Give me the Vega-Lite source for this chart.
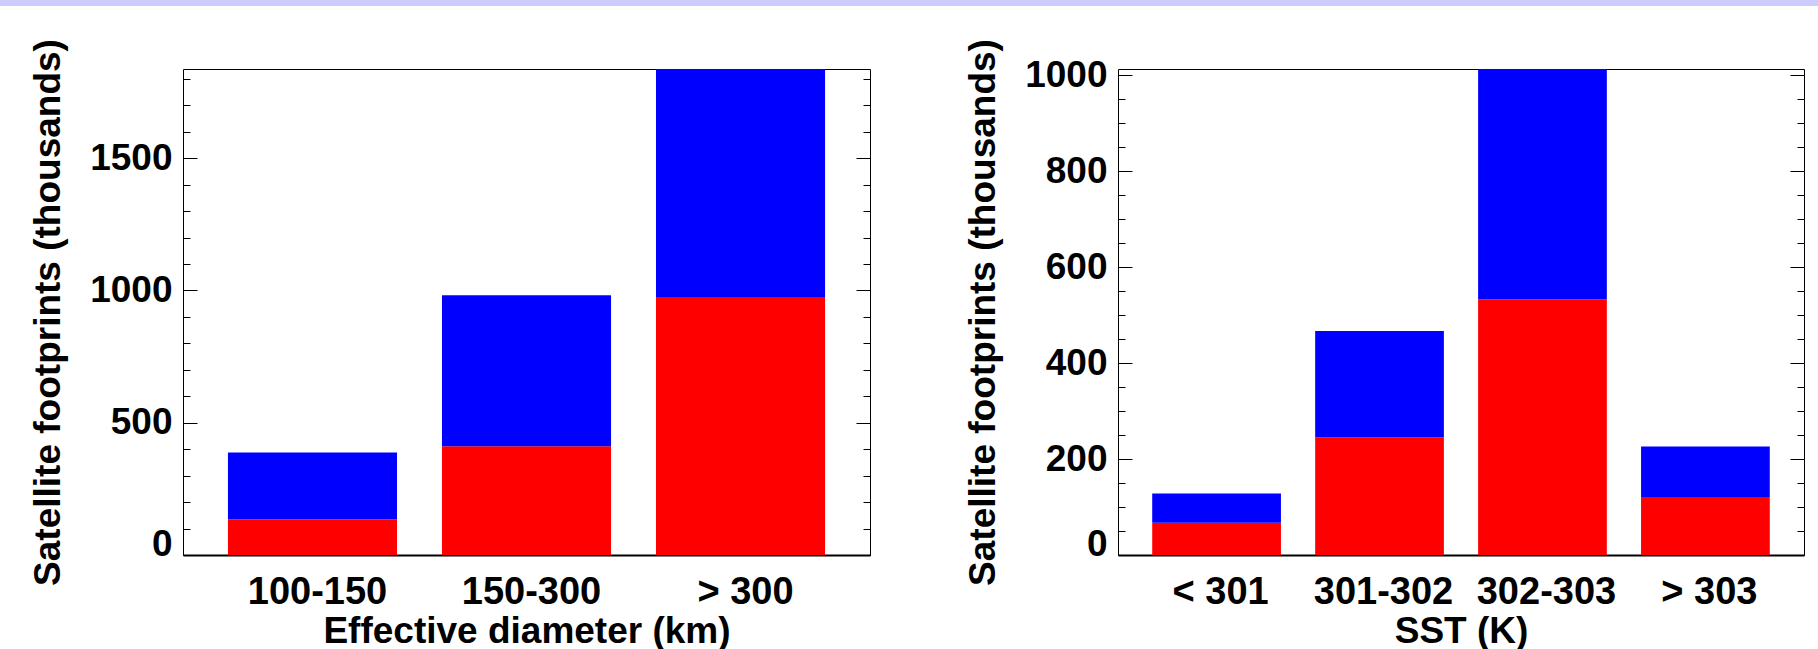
{
  "$schema": "https://vega.github.io/schema/vega-lite/v6.json",
  "padding": 0,
  "background": "white",
  "config": {
    "font": "Liberation Sans",
    "view": {"stroke": "#000000", "strokeWidth": 1},
    "axis": {
      "grid": false,
      "labelFont": "Liberation Sans",
      "titleFont": "Liberation Sans",
      "labelFontSize": 37,
      "titleFontSize": 37,
      "labelFontWeight": "bold",
      "titleFontWeight": "bold",
      "labelColor": "#000000",
      "titleColor": "#000000",
      "tickColor": "#000000",
      "domainColor": "#000000",
      "labelOverlap": false,
      "tickWidth": 1
    }
  },
  "datasets": {
    "diam": [
      {"bin": "100-150", "part": "lower", "count": 135},
      {"bin": "100-150", "part": "upper", "count": 252},
      {"bin": "150-300", "part": "lower", "count": 411},
      {"bin": "150-300", "part": "upper", "count": 571},
      {"bin": "> 300", "part": "lower", "count": 975},
      {"bin": "> 300", "part": "upper", "count": 862}
    ],
    "sst": [
      {"bin": "< 301", "part": "lower", "count": 67},
      {"bin": "< 301", "part": "upper", "count": 61},
      {"bin": "301-302", "part": "lower", "count": 245},
      {"bin": "301-302", "part": "upper", "count": 222},
      {"bin": "302-303", "part": "lower", "count": 533},
      {"bin": "302-303", "part": "upper", "count": 480},
      {"bin": "> 303", "part": "lower", "count": 121},
      {"bin": "> 303", "part": "upper", "count": 105}
    ]
  },
  "spacing": 32,
  "vconcat": [
    {
      "width": 1818,
      "height": 6,
      "view": {"fill": "#ccccff", "stroke": null},
      "data": {"values": []},
      "mark": "rect",
      "encoding": {}
    },
    {
      "spacing": 0,
      "hconcat": [
        {
          "width": 29,
          "height": 10,
          "view": {"stroke": null},
          "data": {"values": []},
          "mark": "rect",
          "encoding": {}
        },
        {
          "spacing": 93,
          "hconcat": [
            {
              "width": 687,
              "height": 486,
              "data": {"name": "diam"},
              "resolve": {"axis": {"x": "independent", "y": "independent"}},
              "layer": [
                {
                  "mark": {"type": "bar"},
                  "encoding": {
                    "x": {"field": "bin", "type": "nominal", "sort": ["100-150", "150-300", "> 300"], "scale": {"paddingInner": 0.21, "paddingOuter": 0.21},
                      "axis": {"orient": "bottom", "ticks": false, "domain": true, "domainWidth": 2, "labelAngle": 0, "labelFontSize": 38, "labelPadding": 18, "labelOffset": 5, "title": "Effective diameter (km)", "titlePadding": 2}},
                    "y": {"field": "count", "type": "quantitative", "stack": "zero", "scale": {"domain": [0, 1837], "nice": false},
                      "axis": {"orient": "left", "values": [0, 500, 1000, 1500], "format": "d", "ticks": false, "domain": false, "labelBaseline": {"condition": {"test": "datum.value === 0", "value": "alphabetic"}, "value": "middle"}, "labelPadding": 11, "title": "Satellite footprints (thousands)", "titlePadding": 22}},
                    "color": {"field": "part", "type": "nominal", "scale": {"domain": ["lower", "upper"], "range": ["#ff0000", "#0000ff"]}, "legend": null},
                    "order": {"field": "part", "sort": "ascending"}
                  }
                },
                {
                  "mark": {"type": "bar", "opacity": 0},
                  "encoding": {
                    "x": {"field": "bin", "type": "nominal", "sort": ["100-150", "150-300", "> 300"], "scale": {"paddingInner": 0.21, "paddingOuter": 0.21},
                      "axis": {"orient": "bottom", "labels": false, "title": null, "domain": false, "ticks": true, "tickSize": -13}},
                    "y": {"field": "count", "type": "quantitative", "stack": "zero", "scale": {"domain": [0, 1837], "nice": false},
                      "axis": {"orient": "left", "values": [0, 500, 1000, 1500], "labels": false, "title": null, "domain": false, "ticks": true, "tickSize": -14}},
                    "color": {"field": "part", "type": "nominal", "legend": null}
                  }
                },
                {
                  "mark": {"type": "bar", "opacity": 0},
                  "encoding": {
                    "x": {"field": "bin", "type": "nominal", "sort": ["100-150", "150-300", "> 300"], "axis": null},
                    "y": {"field": "count", "type": "quantitative", "stack": "zero", "scale": {"domain": [0, 1837], "nice": false},
                      "axis": {"orient": "left", "values": [100, 200, 300, 400, 600, 700, 800, 900, 1100, 1200, 1300, 1400, 1600, 1700, 1800], "labels": false, "title": null, "domain": false, "ticks": true, "tickSize": -7}},
                    "color": {"field": "part", "type": "nominal", "legend": null}
                  }
                },
                {
                  "mark": {"type": "bar", "opacity": 0},
                  "encoding": {
                    "x": {"field": "bin", "type": "nominal", "sort": ["100-150", "150-300", "> 300"], "axis": null},
                    "y": {"field": "count", "type": "quantitative", "stack": "zero", "scale": {"domain": [0, 1837], "nice": false},
                      "axis": {"orient": "right", "values": [0, 500, 1000, 1500], "labels": false, "title": null, "domain": false, "ticks": true, "tickSize": -14}},
                    "color": {"field": "part", "type": "nominal", "legend": null}
                  }
                },
                {
                  "mark": {"type": "bar", "opacity": 0},
                  "encoding": {
                    "x": {"field": "bin", "type": "nominal", "sort": ["100-150", "150-300", "> 300"], "axis": null},
                    "y": {"field": "count", "type": "quantitative", "stack": "zero", "scale": {"domain": [0, 1837], "nice": false},
                      "axis": {"orient": "right", "values": [100, 200, 300, 400, 600, 700, 800, 900, 1100, 1200, 1300, 1400, 1600, 1700, 1800], "labels": false, "title": null, "domain": false, "ticks": true, "tickSize": -7}},
                    "color": {"field": "part", "type": "nominal", "legend": null}
                  }
                }
              ]
            },
            {
              "width": 686,
              "height": 486,
              "data": {"name": "sst"},
              "resolve": {"axis": {"x": "independent", "y": "independent"}},
              "layer": [
                {
                  "mark": {"type": "bar"},
                  "encoding": {
                    "x": {"field": "bin", "type": "nominal", "sort": ["< 301", "301-302", "302-303", "> 303"], "scale": {"paddingInner": 0.21, "paddingOuter": 0.21},
                      "axis": {"orient": "bottom", "ticks": false, "domain": true, "domainWidth": 2, "labelAngle": 0, "labelFontSize": 38, "labelPadding": 18, "labelOffset": 4, "title": "SST (K)", "titlePadding": 2}},
                    "y": {"field": "count", "type": "quantitative", "stack": "zero", "scale": {"domain": [0, 1013], "nice": false},
                      "axis": {"orient": "left", "values": [0, 200, 400, 600, 800, 1000], "format": "d", "ticks": false, "domain": false, "labelBaseline": {"condition": {"test": "datum.value === 0", "value": "alphabetic"}, "value": "middle"}, "labelPadding": 11, "title": "Satellite footprints (thousands)", "titlePadding": 22}},
                    "color": {"field": "part", "type": "nominal", "scale": {"domain": ["lower", "upper"], "range": ["#ff0000", "#0000ff"]}, "legend": null},
                    "order": {"field": "part", "sort": "ascending"}
                  }
                },
                {
                  "mark": {"type": "bar", "opacity": 0},
                  "encoding": {
                    "x": {"field": "bin", "type": "nominal", "sort": ["< 301", "301-302", "302-303", "> 303"], "scale": {"paddingInner": 0.21, "paddingOuter": 0.21},
                      "axis": {"orient": "bottom", "labels": false, "title": null, "domain": false, "ticks": true, "tickSize": -13}},
                    "y": {"field": "count", "type": "quantitative", "stack": "zero", "scale": {"domain": [0, 1013], "nice": false},
                      "axis": {"orient": "left", "values": [0, 200, 400, 600, 800, 1000], "labels": false, "title": null, "domain": false, "ticks": true, "tickSize": -14}},
                    "color": {"field": "part", "type": "nominal", "legend": null}
                  }
                },
                {
                  "mark": {"type": "bar", "opacity": 0},
                  "encoding": {
                    "x": {"field": "bin", "type": "nominal", "sort": ["< 301", "301-302", "302-303", "> 303"], "axis": null},
                    "y": {"field": "count", "type": "quantitative", "stack": "zero", "scale": {"domain": [0, 1013], "nice": false},
                      "axis": {"orient": "left", "values": [50, 100, 150, 250, 300, 350, 450, 500, 550, 650, 700, 750, 850, 900, 950], "labels": false, "title": null, "domain": false, "ticks": true, "tickSize": -7}},
                    "color": {"field": "part", "type": "nominal", "legend": null}
                  }
                },
                {
                  "mark": {"type": "bar", "opacity": 0},
                  "encoding": {
                    "x": {"field": "bin", "type": "nominal", "sort": ["< 301", "301-302", "302-303", "> 303"], "axis": null},
                    "y": {"field": "count", "type": "quantitative", "stack": "zero", "scale": {"domain": [0, 1013], "nice": false},
                      "axis": {"orient": "right", "values": [0, 200, 400, 600, 800, 1000], "labels": false, "title": null, "domain": false, "ticks": true, "tickSize": -14}},
                    "color": {"field": "part", "type": "nominal", "legend": null}
                  }
                },
                {
                  "mark": {"type": "bar", "opacity": 0},
                  "encoding": {
                    "x": {"field": "bin", "type": "nominal", "sort": ["< 301", "301-302", "302-303", "> 303"], "axis": null},
                    "y": {"field": "count", "type": "quantitative", "stack": "zero", "scale": {"domain": [0, 1013], "nice": false},
                      "axis": {"orient": "right", "values": [50, 100, 150, 250, 300, 350, 450, 500, 550, 650, 700, 750, 850, 900, 950], "labels": false, "title": null, "domain": false, "ticks": true, "tickSize": -7}},
                    "color": {"field": "part", "type": "nominal", "legend": null}
                  }
                }
              ]
            }
          ]
        }
      ]
    }
  ]
}
